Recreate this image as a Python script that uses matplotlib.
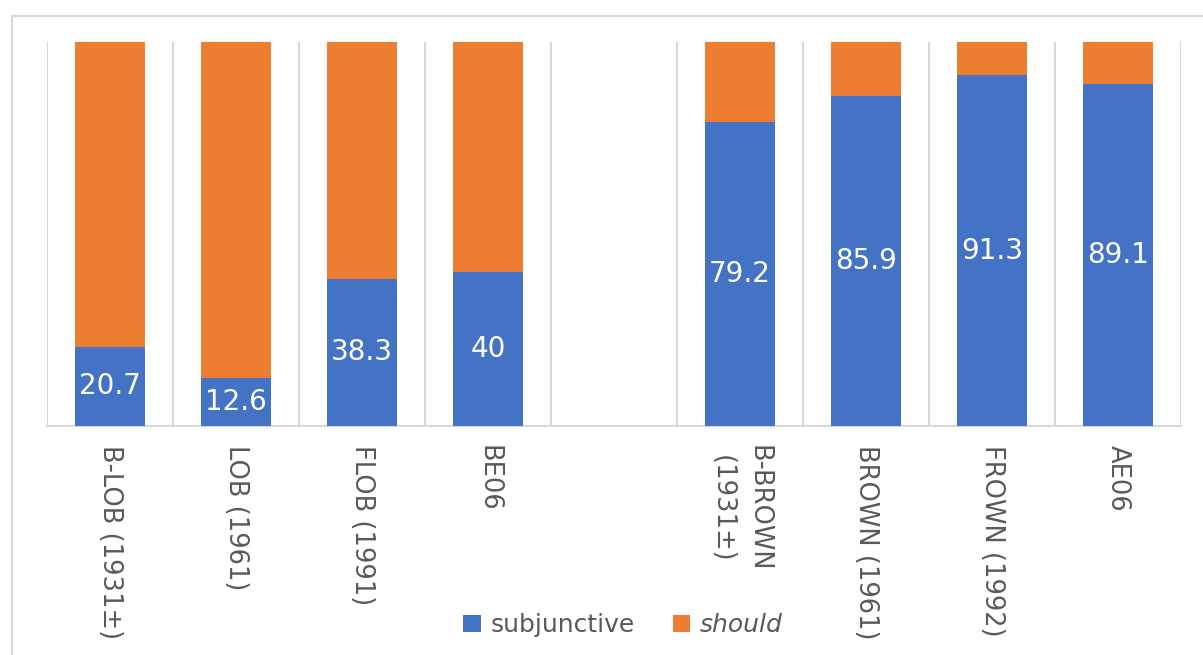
import numpy as np
import matplotlib
matplotlib.use("Agg")
import matplotlib.pyplot as plt
from matplotlib.patches import Rectangle

categories = ["B-LOB (1931±)", "LOB (1961)", "FLOB (1991)", "BE06", "",
              "B-BROWN\n(1931±)", "BROWN (1961)", "FROWN (1992)", "AE06"]
subjunctive = [20.7, 12.6, 38.3, 40, np.nan, 79.2, 85.9, 91.3, 89.1]
subj_labels = ["20.7", "12.6", "38.3", "40", "", "79.2", "85.9", "91.3", "89.1"]
should = [100 - v if not np.isnan(v) else np.nan for v in subjunctive]

BLUE = "#4472C4"
ORANGE = "#ED7D31"
GRID = "#D9D9D9"
TXT = "#595959"

fig = plt.figure(figsize=(12.03, 6.55), dpi=100)
W, H = 1203, 655
ax = fig.add_axes([47 / W, 1 - 426 / H, (1181 - 47) / W, (426 - 42) / H])

x = np.arange(len(categories))
width = 0.556
b1 = ax.bar(x, subjunctive, width, color=BLUE, label="subjunctive", zorder=3)
b2 = ax.bar(x, should, width, bottom=subjunctive, color=ORANGE, label="should", zorder=3)

for xi, v, lab in zip(x, subjunctive, subj_labels):
    if lab:
        ax.text(xi, v / 2, lab, ha="center", va="center", color="white",
                fontsize=20, zorder=4)

ax.set_xlim(-0.5, len(categories) - 0.5)
ax.set_ylim(0, 100)
ax.set_yticks([])
ax.set_xticks(x)
ax.set_xticklabels(categories, rotation=-90, va="top", ha="center",
                   color=TXT, fontsize=18.5, linespacing=1.5,
                   multialignment="center")
ax.tick_params(axis="x", length=0, pad=14)
ax.set_xticks(np.arange(-0.5, len(categories), 1), minor=True)
ax.tick_params(axis="x", which="minor", length=0)
ax.grid(True, axis="x", which="minor", color=GRID, linewidth=1.5, zorder=0)
ax.grid(False, axis="x", which="major")
for s in ["top", "left", "right"]:
    ax.spines[s].set_visible(False)
ax.spines["bottom"].set_color(GRID)
ax.spines["bottom"].set_linewidth(1.5)

leg = fig.legend(handles=[b1, b2], labels=["subjunctive", "should"], loc="center",
                 bbox_to_anchor=(0.518, 1 - 625 / H), ncol=2, frameon=False,
                 fontsize=18, handlelength=0.7, handleheight=0.7,
                 handletextpad=0.4, columnspacing=1.5)
for t in leg.get_texts():
    t.set_color(TXT)
leg.get_texts()[1].set_style("italic")

fig.patches.append(Rectangle((12 / W, -0.1), 1.2, 1 - 16 / H + 0.1,
                             transform=fig.transFigure, fill=False,
                             edgecolor=GRID, linewidth=1.5))

fig.savefig("out.png", dpi=100)
